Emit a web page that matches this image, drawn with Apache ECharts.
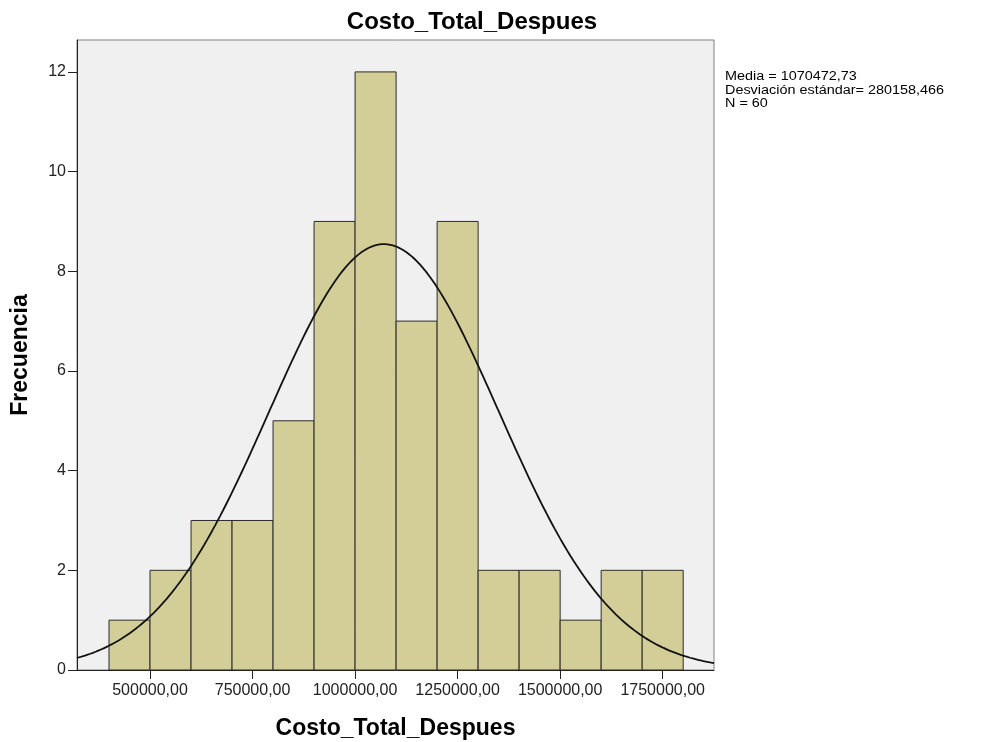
<!DOCTYPE html>
<html>
<head>
<meta charset="utf-8">
<script src="https://cdn.jsdelivr.net/npm/echarts@6/dist/echarts.min.js"></script>
<style>
html,body{margin:0;padding:0;background:#fff;}
#chart{width:985px;height:742px;}
</style>
</head>
<body>
<div id="chart"></div>
<script>
// ---- data ----
const binStart = [400000, 500000, 600000, 700000, 800000, 900000, 1000000, 1100000, 1200000, 1300000, 1400000, 1500000, 1600000, 1700000];
const binEnd   = [500000, 600000, 700000, 800000, 900000, 1000000, 1100000, 1200000, 1300000, 1400000, 1500000, 1600000, 1700000, 1800000];
const frequency = [1, 2, 3, 3, 5, 9, 12, 7, 9, 2, 2, 1, 2, 2];
const xTicks = [500000, 750000, 1000000, 1250000, 1500000, 1750000];
const yTicks = [0, 2, 4, 6, 8, 10, 12];
// statistics shown in the chart (used for the fitted normal curve)
const media = 1070472.73;
const desviacion = 280158.466;
const n = 60;
const binWidth = 100000;

const xMin = 321950, xMax = 1875120, yMax = 12.64;

const barData = binStart.map((s, i) => [s, binEnd[i], frequency[i]]);
const curve = [];
const steps = 240;
for (let i = 0; i <= steps; i++) {
  const x = xMin + (xMax - xMin) * i / steps;
  const z = (x - media) / desviacion;
  const y = n * binWidth / (desviacion * Math.sqrt(2 * Math.PI)) * Math.exp(-0.5 * z * z);
  curve.push([x, y]);
}

const fmtX = v => String(v) + ',00';
const chart = echarts.init(document.getElementById('chart'), null, {renderer: 'canvas'});
chart.setOption({
  animation: false,
  backgroundColor: '#ffffff',
  grid: {
    left: 77, top: 40, right: 271, bottom: 72,
    outerBoundsMode: 'none', containLabel: false,
    show: true, backgroundColor: '#F0F0F0', borderColor: '#808080', borderWidth: 1
  },
  xAxis: {
    type: 'value', min: xMin, max: xMax,
    name: 'Costo_Total_Despues', nameLocation: 'middle', nameGap: 47,
    nameTextStyle: {fontFamily: 'Arial, Liberation Sans', fontWeight: 'bold', fontSize: 23, color: '#000'},
    axisLine: {show: true, onZero: false, lineStyle: {color: '#222', width: 1}},
    axisTick: {show: true, length: 9, customValues: xTicks, lineStyle: {color: '#222'}},
    axisLabel: {customValues: xTicks, formatter: fmtX, margin: 13, fontFamily: 'Arial, Liberation Sans', fontSize: 16, color: '#222'},
    splitLine: {show: false}
  },
  yAxis: {
    type: 'value', min: 0, max: yMax,
    name: 'Frecuencia', nameLocation: 'middle', nameGap: 45, nameRotate: 90,
    nameTextStyle: {fontFamily: 'Arial, Liberation Sans', fontWeight: 'bold', fontSize: 23, color: '#000'},
    axisLine: {show: true, lineStyle: {color: '#222', width: 1}},
    axisTick: {show: true, length: 9, customValues: yTicks, lineStyle: {color: '#222'}},
    axisLabel: {customValues: yTicks, margin: 11, fontFamily: 'Arial, Liberation Sans', fontSize: 16, color: '#222'},
    splitLine: {show: false}
  },
  graphic: [
    {type: 'text', x: 472, y: 22, style: {text: 'Costo_Total_Despues', font: 'bold 24px Arial, "Liberation Sans"', fill: '#000', textAlign: 'center', textVerticalAlign: 'middle'}},
    {type: 'text', x: 725, y: 70, scaleX: 1.2, style: {text: 'Media = 1070472,73\nDesviación estándar= 280158,466\nN = 60', font: '12px Arial, "Liberation Sans"', lineHeight: 13.5, fill: '#000'}}
  ],
  series: [
    {
      type: 'custom',
      data: barData,
      encode: {x: [0, 1], y: 2},
      clip: true,
      renderItem: function (params, api) {
        const p0 = api.coord([api.value(0), 0]);
        const p1 = api.coord([api.value(1), api.value(2)]);
        return {
          type: 'rect',
          shape: {x: p0[0], y: p1[1], width: p1[0] - p0[0], height: p0[1] - p1[1]},
          style: {fill: '#D3CE97', stroke: '#2b2b2b', lineWidth: 1}
        };
      }
    },
    {
      type: 'line',
      data: curve,
      showSymbol: false,
      smooth: false,
      clip: true,
      lineStyle: {color: '#111', width: 1.8},
      z: 5
    }
  ]
});
</script>
</body>
</html>
